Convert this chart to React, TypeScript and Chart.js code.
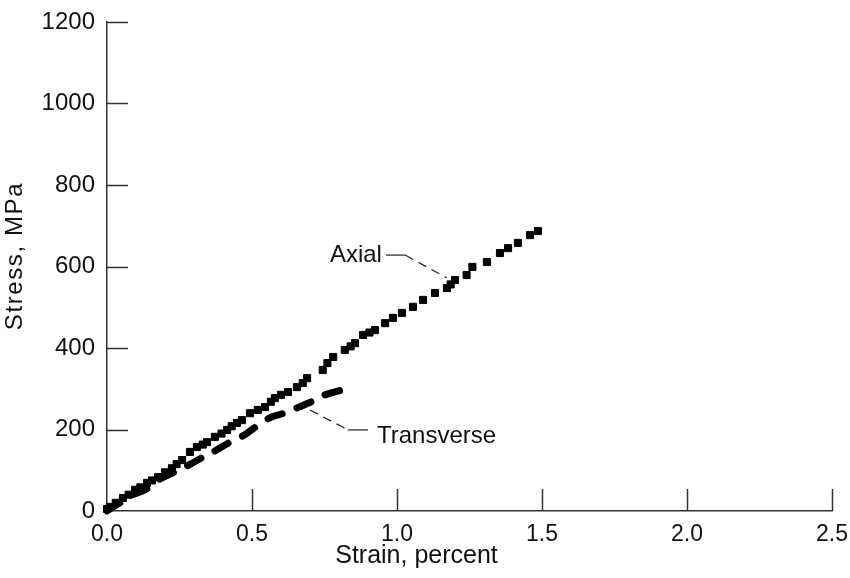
import React, { useEffect, useRef } from "react";
import { Chart, registerables } from "chart.js";

Chart.register(...registerables);

// ---- Data ----
const axialStrain = [
  0.0, 0.01, 0.03, 0.055, 0.075, 0.097, 0.115, 0.138, 0.155, 0.176, 0.2, 0.224, 0.24, 0.259, 0.286,
  0.31, 0.33, 0.345, 0.372, 0.395, 0.414, 0.43, 0.448, 0.465, 0.493, 0.52, 0.545, 0.565, 0.579, 0.6,
  0.624, 0.655, 0.675, 0.69, 0.744, 0.76, 0.78, 0.82, 0.84, 0.855, 0.883, 0.905, 0.924, 0.959, 0.986,
  1.017, 1.055, 1.09, 1.131, 1.172, 1.185, 1.2, 1.24, 1.26, 1.31, 1.355, 1.383, 1.417, 1.459, 1.486,
];
const axialStress = [
  5, 10, 20, 32, 40, 52, 58, 69, 75, 83, 95, 105, 115, 125, 145,
  157, 163, 169, 182, 190, 199, 208, 216, 223, 240, 248, 255, 268, 277, 285,
  292, 304, 314, 326, 346, 363, 378, 395, 404, 412, 432, 438, 444, 461, 474,
  486, 501, 518, 535, 547, 556, 567, 579, 599, 611, 633, 645, 658, 677, 687,
];
const transverseStrain = [
  0, 0.02, 0.045, 0.086, 0.131, 0.176, 0.234, 0.269, 0.331, 0.366, 0.424, 0.47, 0.51, 0.56, 0.61,
  0.655, 0.717, 0.752, 0.82,
];
const transverseStress = [
  0, 10, 20, 39, 52, 76, 96, 108, 132, 145, 169, 185, 205, 228, 240,
  253, 272, 285, 299,
];

const xTickValues = [0, 0.5, 1.0, 1.5, 2.0, 2.5];
const yTickValues = [0, 200, 400, 600, 800, 1000, 1200];

const xTitle = "Strain, percent";
const yTitle = "Stress, MPa";

// annotation labels
const labelTexts = ["Axial", "Transverse"];
const labelStrain = [0.948, 0.931];
const labelStress = [628, 184];
const labelAlign = ["right", "left"];

// leader lines (data units): solid part, then dashed part
const leaderSolidStrain = [[0.962, 1.028], [0.831, 0.9]];
const leaderSolidStress = [[628, 628], [199, 199]];
const leaderDashStrain = [[1.028, 1.172], [0.70, 0.831]];
const leaderDashStress = [[628, 572], [248, 199]];

const FONT = "'Liberation Sans', Arial, Helvetica, sans-serif";
const INK = "#111111";
const AXIS = "#333333";

const decorPlugin = {
  id: "decor",
  afterDraw(chart: any) {
    const { ctx, chartArea, scales, width, height } = chart;
    const xs = scales.x;
    const ys = scales.y;
    ctx.save();
    // inward tick marks
    ctx.strokeStyle = AXIS;
    ctx.lineWidth = 1.5;
    ctx.beginPath();
    yTickValues.forEach((v) => {
      if (v === 0) return;
      const py = Math.round(ys.getPixelForValue(v)) + 0.5;
      ctx.moveTo(chartArea.left, py);
      ctx.lineTo(chartArea.left + 21, py);
    });
    xTickValues.forEach((v) => {
      if (v === 0) return;
      const px = Math.round(xs.getPixelForValue(v)) + 0.5;
      ctx.moveTo(px, chartArea.bottom);
      ctx.lineTo(px, chartArea.bottom - 22);
    });
    ctx.stroke();

    // leader lines
    ctx.strokeStyle = "#222";
    ctx.lineWidth = 1.2;
    for (let i = 0; i < leaderSolidStrain.length; i++) {
      ctx.setLineDash([]);
      ctx.beginPath();
      ctx.moveTo(xs.getPixelForValue(leaderSolidStrain[i][0]), ys.getPixelForValue(leaderSolidStress[i][0]));
      ctx.lineTo(xs.getPixelForValue(leaderSolidStrain[i][1]), ys.getPixelForValue(leaderSolidStress[i][1]));
      ctx.stroke();
      ctx.setLineDash([9, 6]);
      ctx.beginPath();
      ctx.moveTo(xs.getPixelForValue(leaderDashStrain[i][0]), ys.getPixelForValue(leaderDashStress[i][0]));
      ctx.lineTo(xs.getPixelForValue(leaderDashStrain[i][1]), ys.getPixelForValue(leaderDashStress[i][1]));
      ctx.stroke();
    }
    ctx.setLineDash([]);

    // annotation labels
    ctx.fillStyle = INK;
    ctx.font = `24px ${FONT}`;
    ctx.textBaseline = "middle";
    labelTexts.forEach((t, i) => {
      ctx.textAlign = labelAlign[i] as CanvasTextAlign;
      ctx.fillText(t, xs.getPixelForValue(labelStrain[i]), ys.getPixelForValue(labelStress[i]));
    });

    // axis titles
    ctx.textAlign = "center";
    ctx.textBaseline = "middle";
    ctx.font = `25px ${FONT}`;
    ctx.fillText(xTitle, width * 0.49, height - 22);

    ctx.save();
    ctx.translate(15, height * 0.443);
    ctx.rotate(-Math.PI / 2);
    ctx.font = `24px ${FONT}`;
    try {
      (ctx as any).letterSpacing = "1.6px";
    } catch (e) {}
    ctx.fillText(yTitle, 0, 0);
    ctx.restore();

    ctx.restore();
  },
};

export default function App() {
  const canvasRef = useRef<HTMLCanvasElement | null>(null);

  useEffect(() => {
    document.body.style.margin = "0";
    const canvas = canvasRef.current;
    if (!canvas) return;

    const chart = new Chart(canvas, {
      type: "scatter",
      data: {
        datasets: [
          {
            label: "Transverse",
            data: transverseStrain.map((x, i) => ({ x, y: transverseStress[i] })),
            showLine: true,
            borderColor: "#000",
            backgroundColor: "#000",
            borderWidth: 7,
            borderDash: [15, 16],
            borderCapStyle: "round",
            borderJoinStyle: "round",
            pointRadius: 0,
            pointHoverRadius: 0,
            tension: 0.3,
            clip: 20,
          } as any,
          {
            label: "Axial",
            data: axialStrain.map((x, i) => ({ x, y: axialStress[i] })),
            showLine: false,
            pointStyle: "rect",
            pointRadius: 5,
            pointBorderWidth: 1,
            pointBackgroundColor: "#000",
            pointBorderColor: "#000",
            clip: 20,
          } as any,
        ],
      },
      options: {
        animation: false,
        responsive: true,
        maintainAspectRatio: false,
        layout: { padding: { top: 22, right: 18, left: 0, bottom: 0 } },
        plugins: {
          legend: { display: false },
          tooltip: { enabled: false },
        },
        scales: {
          x: {
            type: "linear",
            min: 0,
            max: 2.5,
            afterBuildTicks: (scale: any) => {
              scale.ticks = xTickValues.map((v) => ({ value: v }));
            },
            afterFit: (scale: any) => {
              scale.height = 67;
              scale.paddingLeft = 0;
              scale.paddingRight = 0;
            },
            grid: { display: false, drawTicks: false },
            border: { display: true, color: AXIS, width: 1.5 },
            ticks: {
              color: INK,
              font: { family: FONT, size: 23 },
              padding: 10,
              maxRotation: 0,
              callback: (v: any) => Number(v).toFixed(1),
            },
            title: { display: false },
          },
          y: {
            type: "linear",
            min: 0,
            max: 1200,
            afterBuildTicks: (scale: any) => {
              scale.ticks = yTickValues.map((v) => ({ value: v }));
            },
            afterFit: (scale: any) => {
              scale.width = 107;
              scale.paddingTop = 0;
              scale.paddingBottom = 0;
            },
            grid: { display: false, drawTicks: false },
            border: { display: true, color: AXIS, width: 1.5 },
            ticks: {
              color: INK,
              font: { family: FONT, size: 24 },
              padding: 12,
              callback: (v: any) => String(v),
            },
            title: { display: false },
          },
        },
      },
      plugins: [decorPlugin],
    });

    return () => chart.destroy();
  }, []);

  return (
    <div style={{ width: 850, height: 578, position: "relative", background: "#fff" }}>
      <canvas ref={canvasRef} />
    </div>
  );
}
